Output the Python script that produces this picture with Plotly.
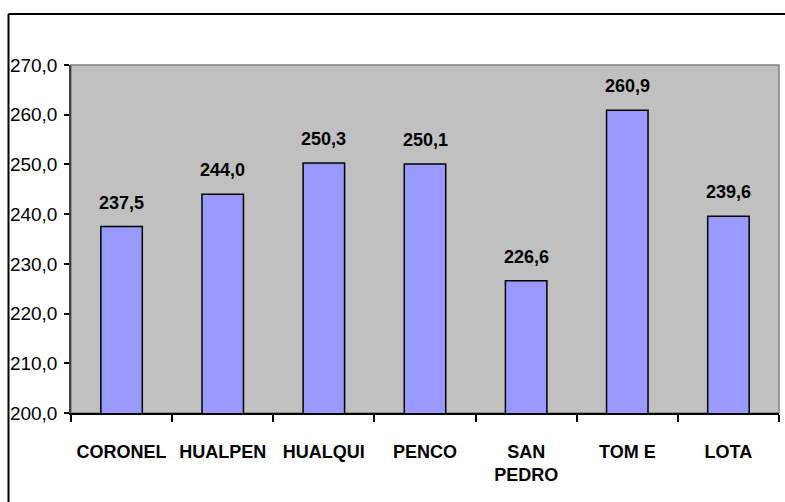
import plotly.graph_objects as go

categories = ["CORONEL", "HUALPEN", "HUALQUI", "PENCO", "SAN<br>PEDRO", "TOM E", "LOTA"]
values = [237.5, 244.0, 250.3, 250.1, 226.6, 260.9, 239.6]
value_labels = ["237,5", "244,0", "250,3", "250,1", "226,6", "260,9", "239,6"]
y_ticks = [200, 210, 220, 230, 240, 250, 260, 270]
y_tick_labels = ["200,0", "210,0", "220,0", "230,0", "240,0", "250,0", "260,0", "270,0"]

W, H = 785, 502
L, R, T, B = 71, 6, 64.5, 89
pw = W - L - R
ph = H - T - B

fig = go.Figure()
fig.add_trace(go.Bar(
    x=categories, y=values, width=0.41,
    marker=dict(color="#9999FF", line=dict(color="#000000", width=1.5)),
    base=0,
))

for c, v, t in zip(categories, values, value_labels):
    fig.add_annotation(x=c, y=v, text="<b>%s</b>" % t, showarrow=False,
                       yanchor="bottom", yshift=12,
                       font=dict(family="Liberation Sans, Arial, sans-serif", size=18, color="#000000"))

# outer frame (left and top edges visible)
x0 = (8.5 - L) / pw
y0 = (H - B - 13.5) / ph
fig.add_shape(type="line", xref="paper", yref="paper", x0=x0, x1=1.2, y0=y0, y1=y0,
              line=dict(color="#000000", width=2))
fig.add_shape(type="line", xref="paper", yref="paper", x0=x0, x1=x0, y0=y0, y1=-0.5,
              line=dict(color="#000000", width=2))
# plot-area border (gray)
fig.add_shape(type="rect", xref="paper", yref="paper", x0=0, x1=1, y0=0, y1=1,
              line=dict(color="#808080", width=1.5), layer="below")

fig.update_layout(
    width=W, height=H,
    margin=dict(l=L, r=R, t=T, b=B, pad=0),
    paper_bgcolor="#FFFFFF", plot_bgcolor="#C0C0C0",
    showlegend=False, bargap=0.59,
    font=dict(family="Liberation Sans, Arial, sans-serif", size=18, color="#000000"),
)
fig.update_xaxes(
    type="category", tickson="boundaries", ticks="outside", ticklen=7,
    tickcolor="#000000", tickwidth=1.5, tickangle=0,
    showline=True, linecolor="#000000", linewidth=2,
    showgrid=False, ticklabelstandoff=21,
    tickfont=dict(family="Liberation Sans, Arial, sans-serif", size=18, weight="bold"),
)
fig.update_yaxes(
    range=[200, 270], tickvals=y_ticks, ticktext=y_tick_labels,
    ticks="outside", ticklen=5, tickcolor="#000000", tickwidth=1.5,
    showline=True, linecolor="#404040", linewidth=1.5,
    showgrid=False, zeroline=False, ticklabelstandoff=3,
    tickfont=dict(family="Liberation Sans, Arial, sans-serif", size=19),
)

fig.write_html("out.html", config={"displayModeBar": False},
               post_script="document.body.style.margin='0px';document.body.style.overflow='hidden';")
